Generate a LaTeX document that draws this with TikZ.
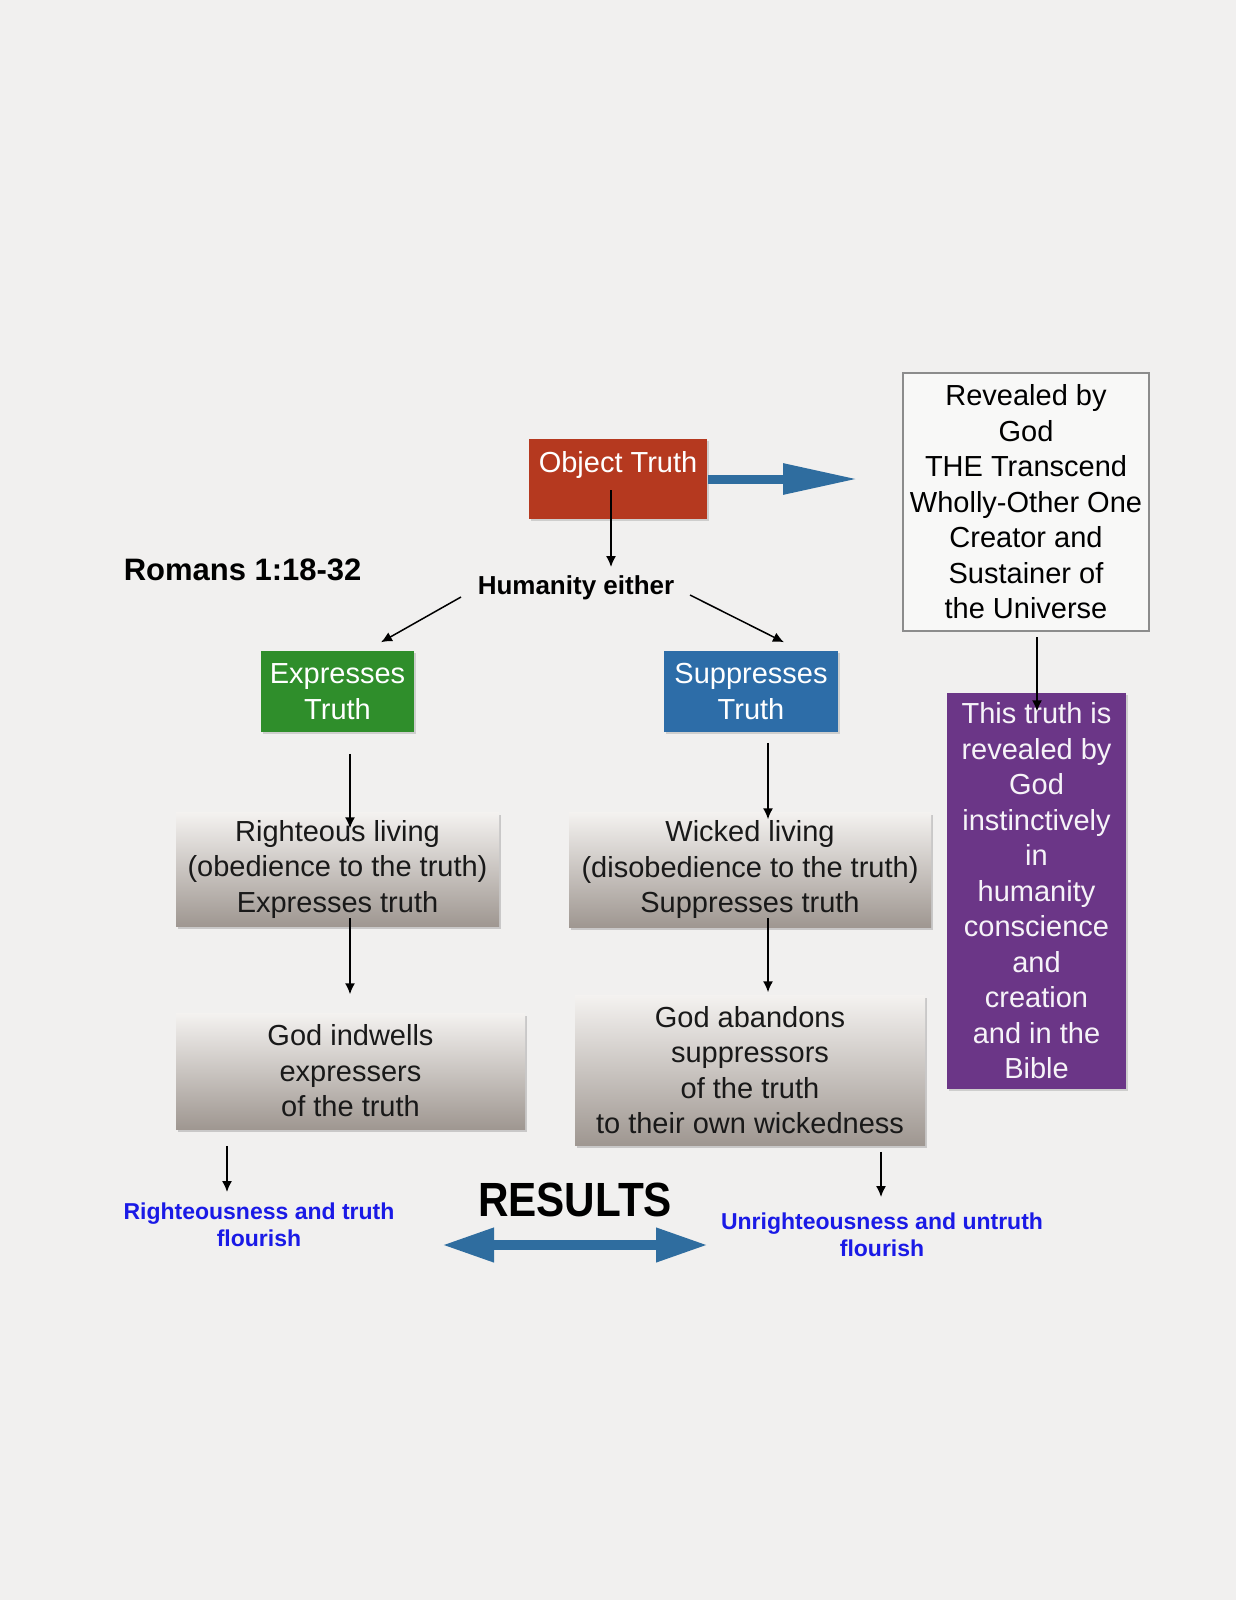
\documentclass[tikz,border=0pt]{standalone}
\usepackage{fontspec}
\setmainfont{Liberation Sans}
\newfontfamily\condfont[FakeStretch=0.88]{Liberation Sans}
\usetikzlibrary{arrows.meta, positioning, calc, shadows}
\definecolor{pagebg}{HTML}{F1F0EF}
\definecolor{brick}{HTML}{B5391F}
\definecolor{leaf}{HTML}{2F8E2B}
\definecolor{steel}{HTML}{2D6DA8}
\definecolor{plum}{HTML}{6B3687}
\definecolor{arrowblue}{HTML}{2F6D9F}
\definecolor{resblue}{HTML}{1A1AE6}
\definecolor{boxtop}{HTML}{F4F2F0}
\definecolor{boxbot}{HTML}{9F9791}
\definecolor{frame}{HTML}{8C8C8C}

\begin{document}
\begin{tikzpicture}[x=0.5pt, y=-0.5pt, >={Latex[length=5.5pt, width=5pt]}, line width=0.75pt,
  txt/.style={font=\fontsize{14.5pt}{17.75pt}\selectfont, align=center, inner sep=0pt},
  colbox/.style={txt, text=white, drop shadow={shadow xshift=1pt, shadow yshift=-1pt, opacity=0.3}},
  graybox/.style={txt, text=black!90, top color=boxtop, bottom color=boxbot,
    drop shadow={shadow xshift=1pt, shadow yshift=-1.5pt, opacity=0.35}},
  conn/.style={->, black},
  bigarrow/.style={arrowblue, line width=4.5pt},
  restext/.style={text=resblue, font=\bfseries\fontsize{11.5pt}{13.75pt}\selectfont, align=center, inner sep=0pt}]

% Background
\fill[pagebg] (0,0) rectangle (1236,1600);
\useasboundingbox (0,0) rectangle (1236,1600);

%% Top row
\node[colbox, fill=brick, minimum width=89pt, text height=16.5pt, text depth=23.5pt] (objtruth) at (618,479) {Object Truth};
\node[txt, font=\bfseries\fontsize{13pt}{15pt}\selectfont] (humanity) at (576,588) {Humanity either};
\node[txt, font=\bfseries\fontsize{15.5pt}{19pt}\selectfont, anchor=west] (romans) at (123,570) {Romans 1:18-32};

% Revelation box
\node[txt, draw=frame, line width=1pt, fill=pagebg!50!white, minimum width=123pt, minimum height=129pt] (revealed) at (1026,502)
  {Revealed by\\God\\THE Transcend\\Wholly-Other One\\Creator and\\Sustainer of\\the Universe};
\coordinate (revtip) at (858,479);
\draw[bigarrow, -{Triangle[length=37.5pt, width=14.5pt]}] (objtruth.east) -- (revtip);

%% Two ways
\node[colbox, fill=leaf, minimum width=76.5pt, minimum height=40.5pt] (express) at (337.5,691.5) {Expresses\\Truth};
\node[colbox, fill=steel, minimum width=87pt, minimum height=40.5pt] (suppress) at (751,691.5) {Suppresses\\Truth};

\draw[conn] ([shift={(-7,11)}]objtruth.center) -- ([shift={(35,-21)}]humanity.center);
\draw[conn] ([shift={(-16,9)}]humanity.west) -- ([shift={(43.5,-8)}]express.north);
\draw[conn] ([shift={(15,7)}]humanity.east) -- ([shift={(33,-8)}]suppress.north);

% Living
\node[graybox, minimum width=161.5pt, minimum height=57pt] (righteous) at (337.5,869)
  {Righteous living\\(obedience to the truth)\\Expresses truth};
\node[graybox, minimum width=181pt, minimum height=57.5pt] (wicked) at (750,869.5)
  {Wicked living\\(disobedience to the truth)\\Suppresses truth};

% God's response
\node[graybox, minimum width=174.5pt, minimum height=58pt] (indwells) at (350.5,1071)
  {God indwells\\expressers\\of the truth};
\node[graybox, minimum width=175pt, minimum height=75pt] (abandons) at (750,1070)
  {God abandons\\suppressors\\of the truth\\to their own wickedness};

\draw[conn] ([shift={(12.5,21)}]express.south) -- ([shift={(12.5,17)}]righteous.north);
\draw[conn] ([shift={(12.5,-9)}]righteous.south) -- ([shift={(-0.5,-18)}]indwells.north);
\draw[conn] ([shift={(17,10)}]suppress.south) -- ([shift={(18,8)}]wicked.north);
\draw[conn] ([shift={(18,-10)}]wicked.south) -- ([shift={(18,-2)}]abandons.north);

% Instinctive revelation
\node[colbox, fill=plum, text=plum!6!white, minimum width=89.5pt, minimum height=198pt] (instinct) at (1036.5,891)
  {This truth is\\revealed by\\God\\instinctively\\in\\humanity\\conscience\\and\\creation\\and in the\\Bible};
\draw[conn] ([shift={(11,5)}]revealed.south) -- ([shift={(0.5,19)}]instinct.north);

%% Results
\node[restext] (rightres) at (259,1225) {Righteousness and truth\\flourish};
\node[restext] (wrongres) at (882,1235) {Unrighteousness and untruth\\flourish};
\draw[conn] ([shift={(-123.5,16)}]indwells.south) -- ([shift={(-32,-33)}]rightres.center);
\draw[conn] ([shift={(131,6)}]abandons.south) -- ([shift={(-1,-38)}]wrongres.center);

\node[font=\fontsize{24pt}{28pt}\condfont\bfseries, inner sep=0pt] (results) at (575,1200) {RESULTS};
\coordinate (resL) at (442,1245);
\coordinate (resR) at (708,1245);
\draw[bigarrow, line width=5pt, {Triangle[length=26pt, width=16pt]}-{Triangle[length=26pt, width=16pt]}] (resL) -- (resR);

\end{tikzpicture}
\end{document}
